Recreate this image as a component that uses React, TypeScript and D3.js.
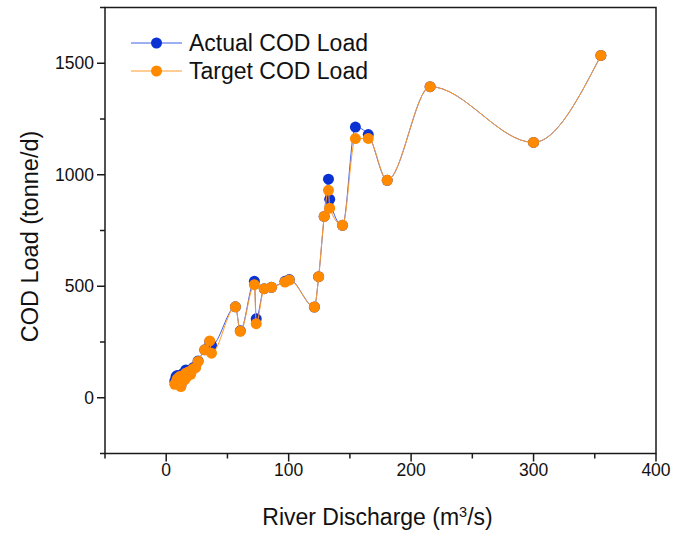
import React from "react";
import * as d3 from "d3";

const discharge = [7, 8, 9, 10, 11, 12, 13, 14, 15, 16, 17, 18, 20, 22, 24, 26, 31.5, 35.5, 37, 56.5, 60.5, 72, 73.5, 80, 86, 97, 100.5, 121, 124.5, 129, 132.5, 133.5, 144, 154.5, 165, 180.5, 215.5, 300, 355];
const actualLoad = [75, 95, 100, 70, 100, 55, 80, 110, 85, 125, 100, 120, 110, 135, 140, 165, 215, 250, 235, 408, 300, 522, 354, 489, 495, 522, 530, 407, 543, 813, 980, 890, 773, 1214, 1180, 975, 1395, 1145, 1535];
const targetLoad = [60, 70, 85, 65, 95, 50, 75, 100, 80, 110, 95, 115, 105, 130, 135, 163, 215, 255, 200, 408, 298, 507, 332, 489, 495, 519, 528, 407, 543, 813, 930, 850, 773, 1162, 1163, 975, 1395, 1145, 1535];

const xTicksMajor = [0, 100, 200, 300, 400];
const xTicksMinor = [-50, 50, 150, 250, 350];
const yTicksMajor = [0, 500, 1000, 1500];
const yTicksMinor = [-250, 250, 750, 1250, 1750];

const seriesNames = ["Actual COD Load", "Target COD Load"];
const seriesColors = ["#0a32d2", "#ff8a00"];
const lineColors = ["#3d5ee8", "#ff9a2a"];

const W = 688, H = 533;
const left = 105, right = 656, top = 7.5, bottom = 453.5;

export default function App() {
  const x = d3.scaleLinear().domain([-50, 400]).range([left, right]);
  const y = d3.scaleLinear().domain([-250, 1750]).range([bottom, top]);
  const line = d3
    .line<number>()
    .x((_, i) => x(discharge[i]))
    .y((d) => y(d))
    .curve(d3.curveMonotoneX);
  const series = [actualLoad, targetLoad];
  const font = "'Liberation Sans', Arial, sans-serif";
  return (
    <svg width={W} height={H} style={{ position: "absolute", left: 0, top: 0, display: "block", background: "#fff" }} fontFamily={font}>
      {series.map((s, k) => (
        <g key={k}>
          <path d={line(s) || ""} fill="none" stroke={lineColors[k]} strokeWidth={1} />
          {s.map((v, i) => (
            <circle key={i} cx={x(discharge[i])} cy={y(v)} r={5.5} fill={seriesColors[k]} />
          ))}
        </g>
      ))}
      <rect x={left} y={top} width={right - left} height={bottom - top} fill="none" stroke="#1a1a1a" strokeWidth={1.5} />
      {xTicksMajor.map((t) => (
        <g key={"xm" + t}>
          <line x1={x(t)} x2={x(t)} y1={bottom} y2={bottom + 8} stroke="#1a1a1a" strokeWidth={1.5} />
          <text x={x(t)} y={476} textAnchor="middle" fontSize={17.5} fill="#111">{t}</text>
        </g>
      ))}
      {xTicksMinor.map((t) => (
        <line key={"xn" + t} x1={x(t)} x2={x(t)} y1={bottom} y2={bottom + 5} stroke="#1a1a1a" strokeWidth={1.5} />
      ))}
      {yTicksMajor.map((t) => (
        <g key={"ym" + t}>
          <line x1={left - 8} x2={left} y1={y(t)} y2={y(t)} stroke="#1a1a1a" strokeWidth={1.5} />
          <text x={94} y={y(t) + 6} textAnchor="end" fontSize={17.5} fill="#111">{t}</text>
        </g>
      ))}
      {yTicksMinor.map((t) => (
        <line key={"yn" + t} x1={left - 5} x2={left} y1={y(t)} y2={y(t)} stroke="#1a1a1a" strokeWidth={1.5} />
      ))}
      <text x={377.5} y={525} textAnchor="middle" fontSize={23} fill="#111">
        River Discharge (m<tspan dy={-8} fontSize={14.5}>3</tspan><tspan dy={8}>/s)</tspan>
      </text>
      <text transform={`translate(38, ${(top + bottom) / 2 + 6}) rotate(-90)`} textAnchor="middle" fontSize={23.5} fill="#111">
        COD Load (tonne/d)
      </text>
      {seriesNames.map((n, k) => (
        <g key={n} transform={`translate(0, ${43 + k * 28})`}>
          <line x1={131} x2={182} y1={0} y2={0} stroke={lineColors[k]} strokeWidth={1} />
          <circle cx={156.5} cy={0} r={5.5} fill={seriesColors[k]} />
          <text x={189} y={8} fontSize={23} fill="#111">{n}</text>
        </g>
      ))}
    </svg>
  );
}
